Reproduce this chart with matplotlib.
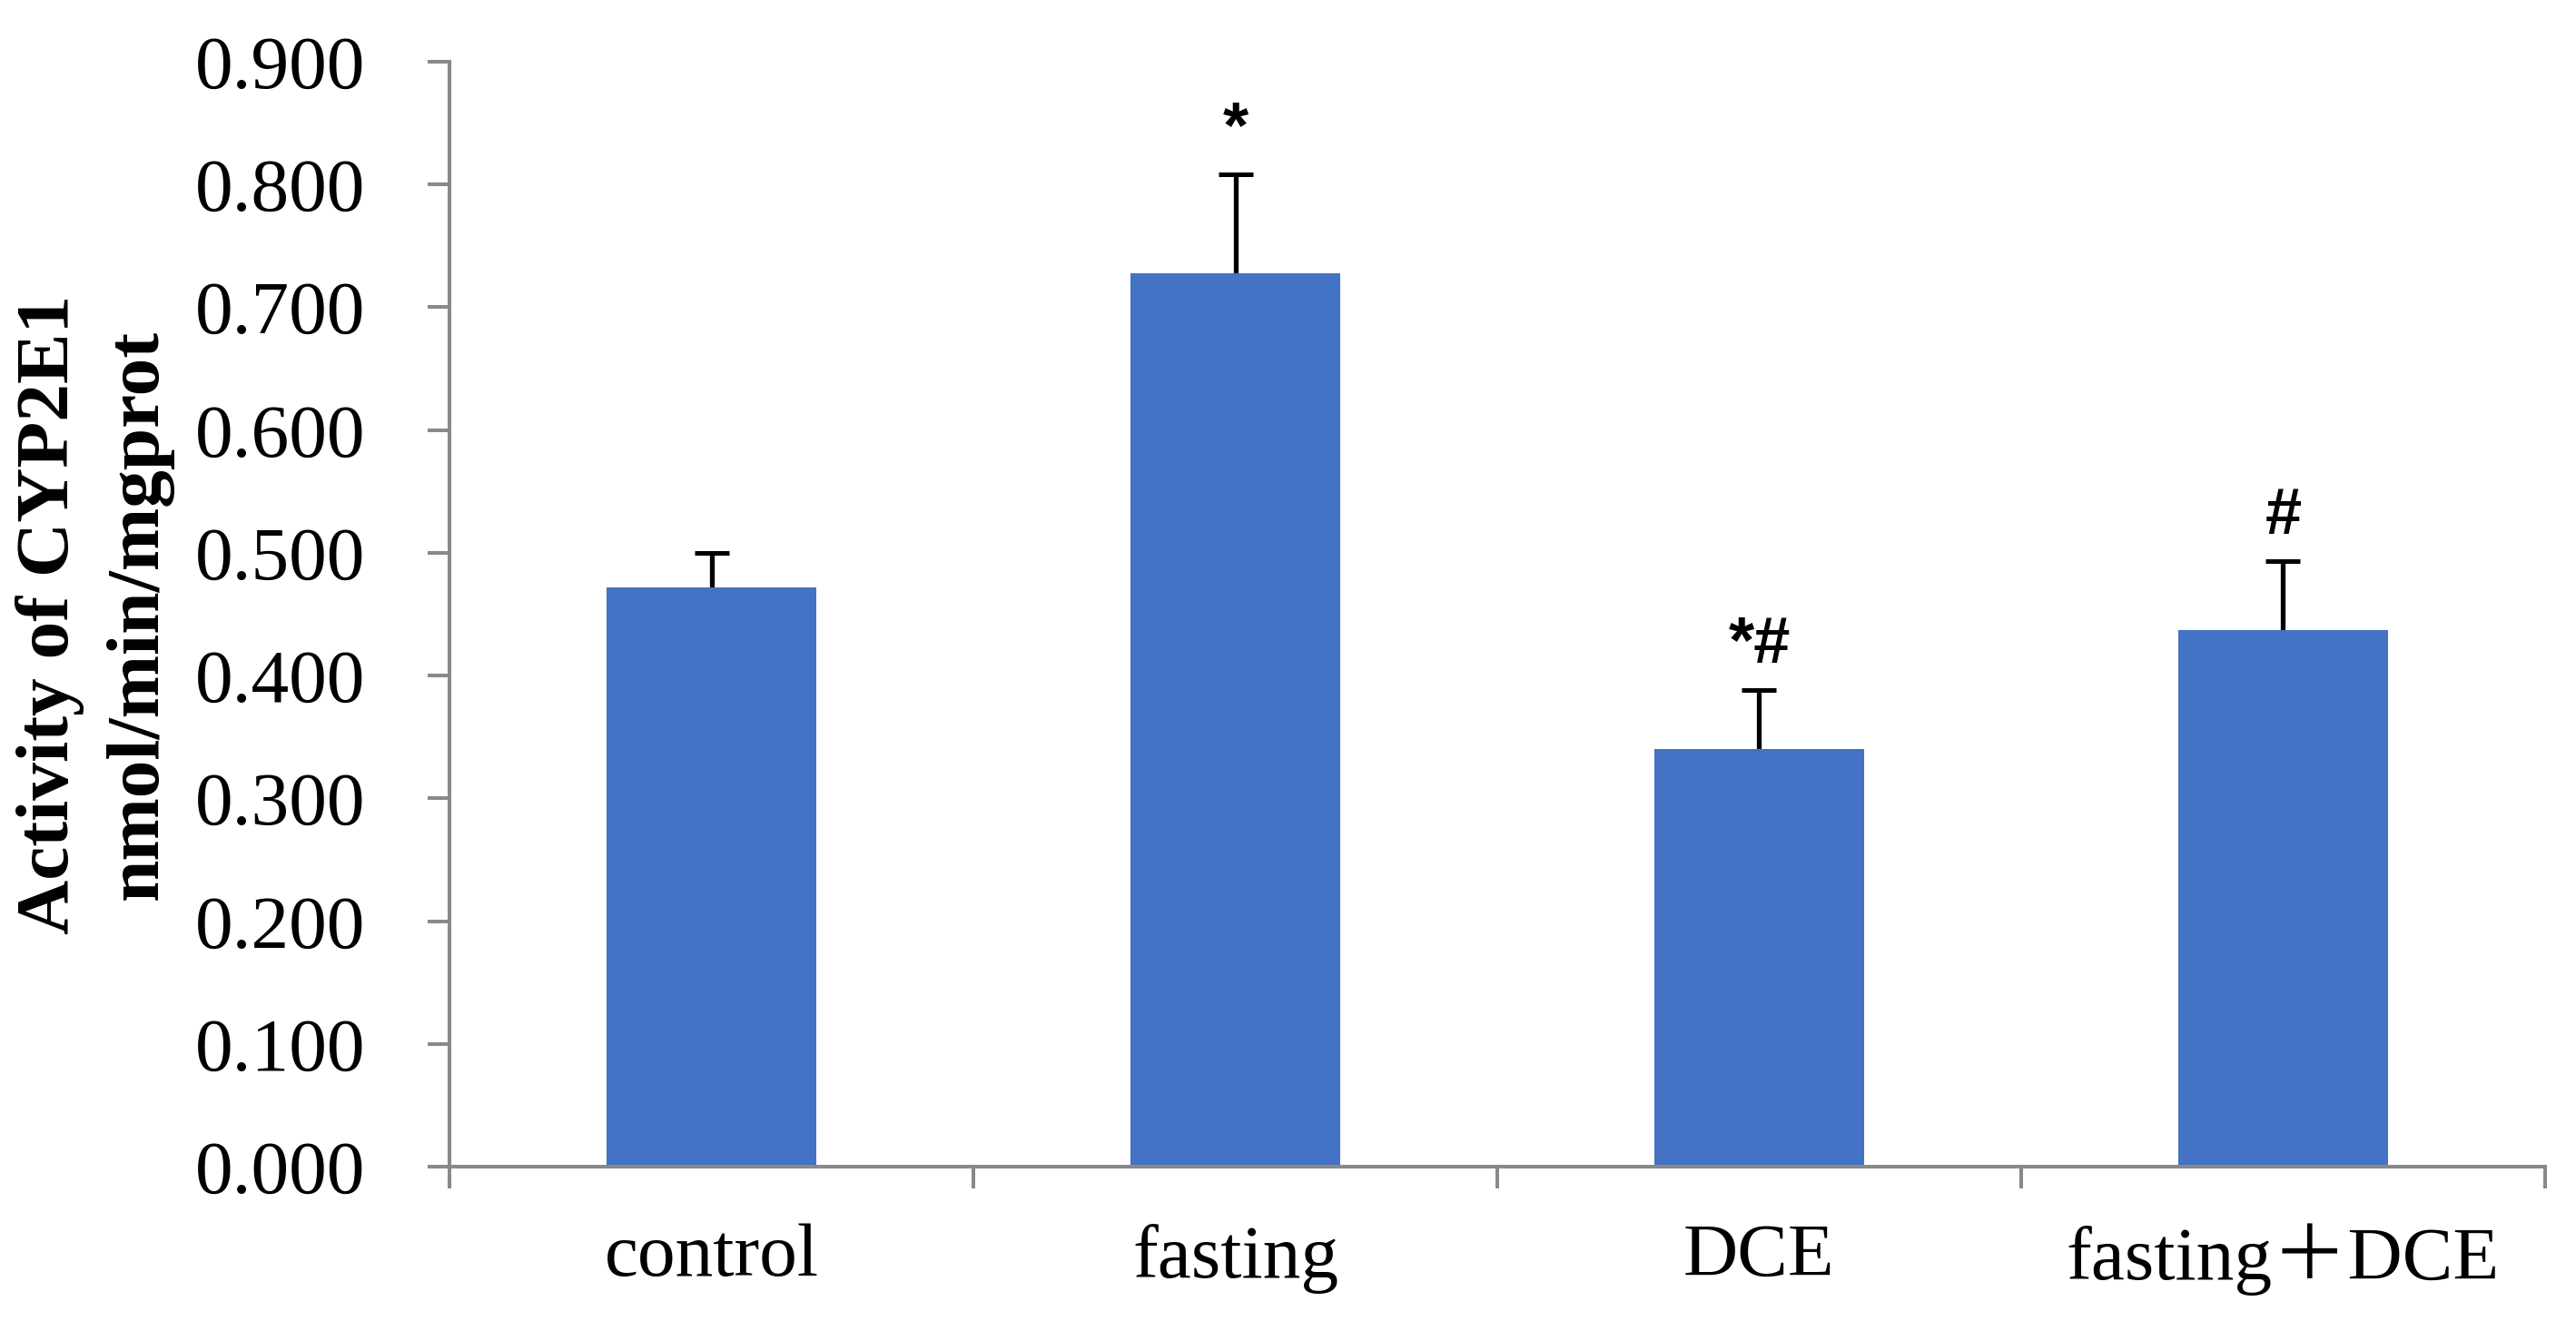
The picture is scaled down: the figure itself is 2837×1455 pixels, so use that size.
import numpy as np
import matplotlib.pyplot as plt

plt.rcParams['font.family'] = ['Liberation Serif', 'Noto Sans CJK SC', 'DejaVu Sans']

# Data
groups = ['control', 'fasting', 'DCE', 'fasting＋DCE']
activity = [0.472, 0.728, 0.340, 0.437]
sd = [0.028, 0.080, 0.048, 0.056]
marks = ['', '*', '*#', '#']

fig = plt.figure(figsize=(28.37, 14.55), dpi=100)
ax = fig.add_axes([0.1745, 0.1168, 0.8135, 0.8365])

x = np.arange(len(groups))
# error bars sit behind the bars so only the upper half shows
ax.errorbar(x, activity, yerr=sd, fmt='none', ecolor='black',
            elinewidth=3.8, capsize=14, capthick=3.6, zorder=1)
ax.bar(x, activity, width=0.40, color='#4472C4', zorder=2)

# significance marks above the error bars
for xi, v, e, m in zip(x, activity, sd, marks):
    if m:
        ax.annotate(m, (xi, v + e), xytext=(0, 11), textcoords='offset points',
                    ha='center', va='bottom', fontsize=52, fontweight='bold',
                    family=['Liberation Sans', 'DejaVu Sans'])

ax.set_xlim(-0.5, 3.5)
ax.set_ylim(0, 0.9)
ax.set_yticks(np.arange(0, 0.91, 0.1))
ax.set_yticklabels(['%.3f' % t for t in np.arange(0, 0.91, 0.1)])

# category labels between boundary ticks
ax.set_xticks(np.arange(-0.5, 3.6, 1.0))
ax.set_xticklabels([])
ax.set_xticks(x, minor=True)
ax.set_xticklabels(groups, minor=True)
ax.tick_params(axis='x', which='minor', length=0, pad=45, labelsize=60)
ax.tick_params(axis='x', which='major', length=17, width=2.9, color='#898989')
ax.tick_params(axis='y', length=17, width=2.9, color='#898989', pad=50, labelsize=60)

for s in ['top', 'right']:
    ax.spines[s].set_visible(False)
for s in ['left', 'bottom']:
    ax.spines[s].set_color('#898989')
    ax.spines[s].set_linewidth(2.9)

ax.set_ylabel('Activity of CYP2E1\nnmol/min/mgprot', fontsize=60,
              fontweight='bold', linespacing=1.4)
ax.yaxis.set_label_coords(-0.132, 0.5)

fig.savefig('out.png', dpi=100, facecolor='white')
